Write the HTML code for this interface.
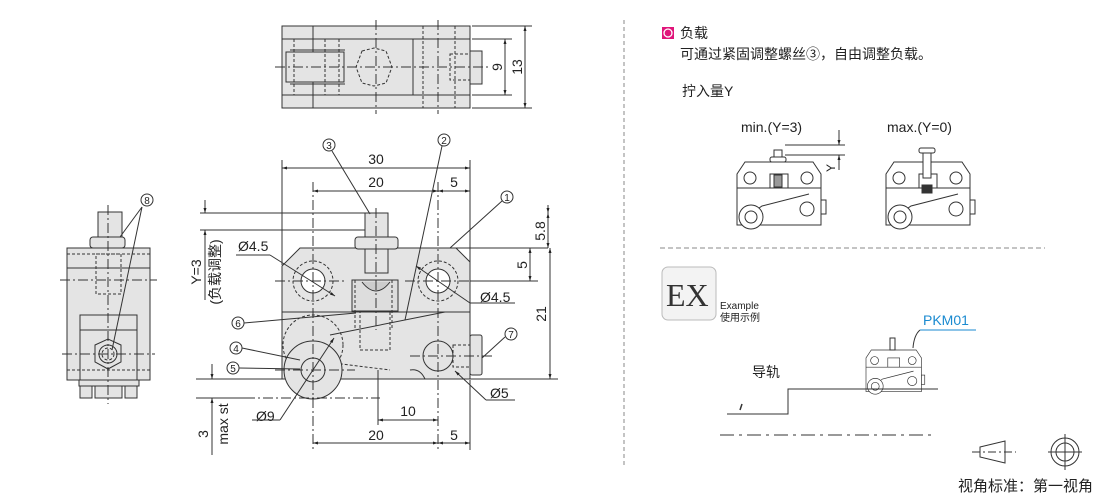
<!DOCTYPE html>
<html><head><meta charset="utf-8"><style>
html,body{margin:0;padding:0;background:#fff;}
svg{display:block;}
text{font-family:"Liberation Sans","Noto Sans CJK SC",sans-serif;fill:#222;}
</style></head><body>
<svg width="1110" height="501" viewBox="0 0 1110 501" xmlns="http://www.w3.org/2000/svg">
<defs>
<marker id="a" viewBox="0 0 10 10" refX="10" refY="5" markerWidth="7" markerHeight="5" orient="auto-start-reverse"><path d="M0,2L10,5L0,8z" fill="#222"/></marker>
<g id="mini">
 <path d="M0,12 L8,0 L76,0 L84,12 L84,63 L0,63 Z" fill="#fff" stroke="#333" stroke-width="1"/>
 <line x1="0" y1="26" x2="84" y2="26" stroke="#333"/>
 <circle cx="13" cy="16" r="6" fill="#fff" stroke="#333"/>
 <circle cx="70" cy="16" r="6" fill="#fff" stroke="#333"/>
 <circle cx="70" cy="47" r="7" fill="#fff" stroke="#333"/>
 <rect x="33" y="12" width="18" height="14" fill="#fff" stroke="#333"/>
 <path d="M5,58 L25,44 L72,32" fill="none" stroke="#333"/>
 <circle cx="14" cy="55" r="12" fill="#fff" stroke="#333"/>
 <circle cx="14" cy="55" r="6" fill="#fff" stroke="#333"/>
 <rect x="84" y="38" width="5" height="14" fill="#fff" stroke="#333"/>
</g>
</defs>

<!-- TOP VIEW -->
<g stroke="#333" stroke-width="1" fill="none">
 <rect x="282" y="26" width="188" height="82" fill="#e4e4e4"/>
 <line x1="282" y1="39" x2="470" y2="39"/><line x1="282" y1="95" x2="470" y2="95"/>
 <line x1="313" y1="26" x2="313" y2="108"/><line x1="413" y1="39" x2="413" y2="95"/>
 <rect x="286" y="52" width="58" height="30" fill="#e4e4e4"/>
 <path d="M345,50 L290,50 M345,84 L290,84" />
 <g stroke-dasharray="3,2"><line x1="294" y1="39" x2="294" y2="95"/><line x1="325" y1="39" x2="325" y2="95"/><line x1="339" y1="39" x2="339" y2="95"/>
 <polygon points="362,51 374,48 386,51 392,67 386,83 374,86 362,83 356,67"/>
 <line x1="423" y1="26" x2="423" y2="108"/><line x1="455" y1="26" x2="455" y2="108"/>
 <rect x="450" y="54" width="20" height="26"/></g>
 <rect x="470" y="51" width="12" height="33" fill="#e4e4e4"/>
 <g stroke-dasharray="10,3,2,3"><line x1="275" y1="67" x2="490" y2="67"/><line x1="376" y1="20" x2="376" y2="114"/><line x1="438" y1="20" x2="438" y2="114"/></g>
 <line x1="472" y1="26" x2="532" y2="26"/><line x1="472" y1="108" x2="532" y2="108"/>
 <line x1="472" y1="39" x2="512" y2="39"/><line x1="472" y1="95" x2="512" y2="95"/>
 <line x1="505" y1="39" x2="505" y2="95" marker-start="url(#a)" marker-end="url(#a)"/>
 <line x1="525" y1="26" x2="525" y2="108" marker-start="url(#a)" marker-end="url(#a)"/>
</g>
<text transform="translate(502,67) rotate(-90)" font-size="14" text-anchor="middle">9</text>
<text transform="translate(522,67) rotate(-90)" font-size="14" text-anchor="middle">13</text>

<!-- SIDE VIEW -->
<g stroke="#333" stroke-width="1" fill="none">
 <rect x="98" y="212" width="24" height="25" fill="#e4e4e4"/>
 <rect x="90" y="237" width="35" height="11" rx="3" fill="#e4e4e4"/>
 <rect x="67" y="248" width="83" height="132" fill="#e4e4e4"/>
 <line x1="67" y1="268" x2="150" y2="268"/>
 <rect x="80" y="315" width="57" height="65" fill="#e4e4e4"/>
 <line x1="80" y1="330" x2="137" y2="330"/>
 <rect x="79" y="380" width="60" height="6" fill="#e4e4e4"/>
 <rect x="80" y="386" width="12" height="12" fill="#e4e4e4"/><rect x="125" y="386" width="12" height="12" fill="#e4e4e4"/>
 <rect x="95" y="386" width="27" height="12" fill="#e4e4e4"/>
 <polygon points="95,345 108,339 121,345 121,362 108,369 95,362" fill="#e4e4e4"/>
 <circle cx="108" cy="354" r="9"/>
 <g stroke-dasharray="3,2"><rect x="96" y="254" width="25" height="40"/><line x1="67" y1="254" x2="150" y2="254"/><line x1="67" y1="370" x2="150" y2="370"/><circle cx="108" cy="354" r="6"/></g>
 <g stroke-dasharray="10,3,2,3"><line x1="108" y1="205" x2="108" y2="404"/><line x1="60" y1="280" x2="157" y2="280"/><line x1="62" y1="354" x2="155" y2="354"/></g>
 <line x1="142" y1="207" x2="120" y2="237"/><line x1="142" y1="207" x2="112" y2="350"/>
 <circle cx="147" cy="200" r="6"/>
</g>
<text x="147" y="204" font-size="10" text-anchor="middle">8</text>

<!-- FRONT VIEW -->
<g stroke="#333" stroke-width="1" fill="none">
 <path d="M282,266 L300,248 L456,248 L470,262 L470,379 L282,379 Z" fill="#e4e4e4"/>
 <line x1="282" y1="312" x2="470" y2="312"/>
 <rect x="352" y="280" width="46" height="31" fill="#ddd"/>
 <rect x="365" y="213" width="23" height="60" fill="#e4e4e4"/>
 <rect x="355" y="237" width="43" height="12" rx="3" fill="#e4e4e4"/>
 <path d="M362,282 Q376,300 390,282" fill="#ccc"/>
 <g stroke-dasharray="3,2">
  <circle cx="313" cy="281" r="20"/><circle cx="438" cy="281" r="20"/>
  <circle cx="313" cy="345" r="30"/>
  <rect x="360" y="312" width="30" height="38"/>
  <line x1="355" y1="280" x2="355" y2="330"/><line x1="392" y1="280" x2="392" y2="330"/>
  <path d="M310,360 L390,370"/>
  <rect x="453" y="345" width="17" height="22"/>
 </g>
 <circle cx="313" cy="281" r="12" fill="#fff"/><circle cx="438" cy="281" r="12" fill="#fff"/>
 <circle cx="438" cy="356" r="15" fill="#e4e4e4"/>
 <path d="M330,335 L445,312" />
 <path d="M410,370 Q420,368 425,379"/>
 <circle cx="313" cy="370" r="29" fill="#e4e4e4"/>
 <circle cx="313" cy="370" r="12" fill="#e4e4e4"/>
 <rect x="470" y="335" width="12" height="40" rx="2" fill="#e4e4e4"/>
 <g stroke-dasharray="10,3,2,3">
  <line x1="313" y1="182" x2="313" y2="450"/><line x1="438" y1="182" x2="438" y2="450"/>
  <line x1="376" y1="208" x2="376" y2="330"/>
  <line x1="275" y1="281" x2="345" y2="281"/><line x1="405" y1="281" x2="470" y2="281"/>
  <line x1="410" y1="356" x2="495" y2="356"/>
  <line x1="275" y1="370" x2="355" y2="370"/>
  <line x1="245" y1="398" x2="380" y2="398"/>
 </g>
 <line x1="282" y1="160" x2="282" y2="265"/><line x1="470" y1="160" x2="470" y2="262"/>
 <line x1="470" y1="380" x2="470" y2="450"/><line x1="378" y1="370" x2="378" y2="425"/>
 <line x1="200" y1="213" x2="365" y2="213"/><line x1="200" y1="230" x2="365" y2="230"/>
 <line x1="456" y1="248" x2="548" y2="248"/><line x1="470" y1="281" x2="538" y2="281"/>
 <line x1="470" y1="379" x2="558" y2="379"/><line x1="196" y1="379" x2="282" y2="379"/>
 <line x1="196" y1="398" x2="245" y2="398"/>
 <line x1="282" y1="168" x2="470" y2="168" marker-start="url(#a)" marker-end="url(#a)"/>
 <line x1="313" y1="191" x2="438" y2="191" marker-start="url(#a)" marker-end="url(#a)"/>
 <line x1="438" y1="191" x2="470" y2="191" marker-start="url(#a)" marker-end="url(#a)"/>
 <line x1="378" y1="420" x2="438" y2="420" marker-start="url(#a)" marker-end="url(#a)"/>
 <line x1="313" y1="443" x2="438" y2="443" marker-start="url(#a)" marker-end="url(#a)"/>
 <line x1="438" y1="443" x2="470" y2="443" marker-start="url(#a)" marker-end="url(#a)"/>
 <line x1="205" y1="200" x2="205" y2="213" marker-end="url(#a)"/><line x1="205" y1="243" x2="205" y2="230" marker-end="url(#a)"/>
 <line x1="205" y1="243" x2="205" y2="300"/>
 <line x1="212" y1="364" x2="212" y2="379" marker-end="url(#a)"/><line x1="212" y1="412" x2="212" y2="398" marker-end="url(#a)"/>
 <line x1="212" y1="412" x2="212" y2="455"/>
 <line x1="548" y1="205" x2="548" y2="213" marker-end="url(#a)"/><line x1="548" y1="213" x2="548" y2="248" marker-start="url(#a)" marker-end="url(#a)"/>
 <line x1="530" y1="248" x2="530" y2="281" marker-start="url(#a)" marker-end="url(#a)"/>
 <line x1="550" y1="248" x2="550" y2="379" marker-start="url(#a)" marker-end="url(#a)"/>
 <line x1="332" y1="151" x2="370" y2="214"/>
 <line x1="442" y1="146" x2="405" y2="320"/>
 <line x1="502" y1="201" x2="450" y2="248"/>
 <line x1="244" y1="323" x2="356" y2="313"/>
 <line x1="242" y1="348" x2="300" y2="360"/>
 <line x1="239" y1="368" x2="300" y2="369"/>
 <line x1="505" y1="337" x2="482" y2="358"/>
 <line x1="270" y1="255" x2="335" y2="296" marker-end="url(#a)"/>
 <line x1="236" y1="255" x2="270" y2="255"/>
 <line x1="470" y1="303" x2="416" y2="266" marker-end="url(#a)"/>
 <line x1="470" y1="303" x2="515" y2="303"/>
 <line x1="486" y1="400" x2="455" y2="371" marker-end="url(#a)"/>
 <line x1="486" y1="400" x2="515" y2="400"/>
 <line x1="280" y1="420" x2="334" y2="338" marker-end="url(#a)"/>
 <line x1="252" y1="420" x2="280" y2="420"/>
 <circle cx="329" cy="145" r="6"/><circle cx="444" cy="140" r="6"/><circle cx="507" cy="197" r="6"/>
 <circle cx="238" cy="323" r="6"/><circle cx="236" cy="348" r="6"/><circle cx="233" cy="368" r="6"/><circle cx="511" cy="334" r="6"/>
</g>
<g font-size="10" text-anchor="middle">
<text x="329" y="149">3</text><text x="444" y="144">2</text><text x="507" y="201">1</text>
<text x="238" y="327">6</text><text x="236" y="352">4</text><text x="233" y="372">5</text><text x="511" y="338">7</text>
</g>
<g font-size="14">
<text x="376" y="164" text-anchor="middle">30</text>
<text x="376" y="187" text-anchor="middle">20</text>
<text x="454" y="187" text-anchor="middle">5</text>
<text x="408" y="416" text-anchor="middle">10</text>
<text x="376" y="440" text-anchor="middle">20</text>
<text x="454" y="440" text-anchor="middle">5</text>
<text x="238" y="251">Ø4.5</text>
<text x="480" y="302">Ø4.5</text>
<text x="490" y="398">Ø5</text>
<text x="256" y="421">Ø9</text>
<text transform="translate(545,231) rotate(-90)" text-anchor="middle">5.8</text>
<text transform="translate(527,265) rotate(-90)" text-anchor="middle">5</text>
<text transform="translate(546,314) rotate(-90)" text-anchor="middle">21</text>
<text transform="translate(201,272) rotate(-90)" text-anchor="middle">Y=3</text>
<text transform="translate(220,272) rotate(-90)" text-anchor="middle">(负载调整)</text>
<text transform="translate(208,434) rotate(-90)" text-anchor="middle">3</text>
<text transform="translate(228,424) rotate(-90)" text-anchor="middle">max st</text>
</g>

<!-- RIGHT PANEL -->
<line x1="624" y1="20" x2="624" y2="468" stroke="#888" stroke-dasharray="4,3"/>
<rect x="662" y="27" width="12" height="12" fill="#e0157a"/>
<circle cx="668" cy="33" r="4" fill="none" stroke="#fff" stroke-width="1.3"/>
<text x="680" y="38" font-size="14">负载</text>
<text x="680" y="59" font-size="14">可通过紧固调整螺丝③，自由调整负载。</text>
<text x="682" y="96" font-size="14">拧入量Y</text>
<text x="741" y="132" font-size="14">min.(Y=3)</text>
<text x="887" y="132" font-size="14">max.(Y=0)</text>
<use href="#mini" transform="translate(737,162)"/>
<use href="#mini" transform="translate(886,162)"/>
<g stroke="#333" fill="#fff">
 <rect x="774" y="150" width="8" height="12"/><rect x="770" y="157" width="16" height="5" rx="2"/>
 <rect x="774" y="175" width="8" height="12" fill="#999"/>
 <rect x="923" y="150" width="8" height="28"/><rect x="919" y="148" width="16" height="5" rx="2"/>
 <rect x="922" y="185" width="10" height="8" fill="#333"/>
 <line x1="785" y1="145" x2="845" y2="145"/><line x1="785" y1="155" x2="845" y2="155"/>
 <line x1="839" y1="130" x2="839" y2="145" marker-end="url(#a)"/><line x1="839" y1="170" x2="839" y2="155" marker-end="url(#a)"/>
</g>
<text transform="translate(835,172) rotate(-90)" font-size="12">Y</text>
<line x1="660" y1="248" x2="1045" y2="248" stroke="#888" stroke-dasharray="5,3"/>
<rect x="662" y="267" width="54" height="53" rx="6" fill="#f3f3f3" stroke="#bbb"/>
<text x="666" y="306" font-size="32" style="font-family:'Liberation Serif',serif;fill:#333">EX</text>
<text x="720" y="309" font-size="10">Example</text>
<text x="720" y="321" font-size="10">使用示例</text>
<text x="923" y="325" font-size="14" style="fill:#1a8ad0">PKM01</text>
<line x1="920" y1="330" x2="976" y2="330" stroke="#1a8ad0"/>
<path d="M920,330 Q914,335 913,348" stroke="#333" fill="none"/>
<use href="#mini" transform="translate(866,350) scale(0.66)"/>
<rect x="890" y="338" width="5" height="12" fill="#fff" stroke="#333"/>
<text x="752" y="377" font-size="14">导轨</text>
<g stroke="#333" fill="none">
 <path d="M727,414 L788,414 L788,389 L938,389"/>
 <path d="M740,410 L742,404" stroke-width="1.5"/>
 <line x1="720" y1="435" x2="935" y2="435" stroke-dasharray="14,5,3,5"/>
 <path d="M980,447 L1005,441 L1005,463 L980,457 Z"/>
 <line x1="972" y1="452" x2="1016" y2="452" stroke-dasharray="8,3,2,3"/>
 <circle cx="1065" cy="452" r="14"/><circle cx="1065" cy="452" r="9"/>
 <line x1="1048" y1="452" x2="1082" y2="452"/><line x1="1065" y1="434" x2="1065" y2="470"/>
</g>
<text x="958" y="491" font-size="15">视角标准：第一视角</text>
</svg>
</body></html>
